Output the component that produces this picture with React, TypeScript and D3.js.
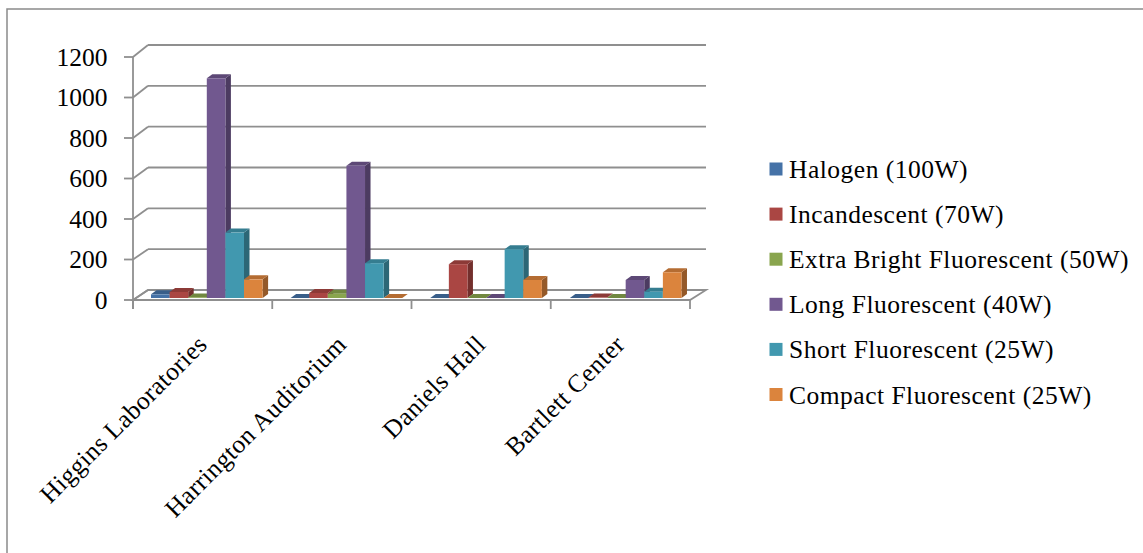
import React from "react";
import * as d3 from "d3";

const categories = ["Higgins Laboratories", "Harrington Auditorium", "Daniels Hall", "Bartlett Center"];
const seriesNames = [
  "Halogen (100W)",
  "Incandescent (70W)",
  "Extra Bright Fluorescent (50W)",
  "Long Fluorescent (40W)",
  "Short Fluorescent (25W)",
  "Compact Fluorescent (25W)",
];
const halogen = [18, 0, 0, 0];
const incandescent = [30, 25, 167, 2];
const extraBright = [3, 21, 0, 0];
const longFluor = [1085, 653, 0, 89];
const shortFluor = [323, 172, 241, 31];
const compactFluor = [92, 0, 89, 127];
const seriesValues = [halogen, incandescent, extraBright, longFluor, shortFluor, compactFluor];
const yTicks = [0, 200, 400, 600, 800, 1000, 1200];
const colors = ["#4572A7", "#AA4643", "#89A54E", "#71588F", "#4198AF", "#DB843D"];

const W = 1143;
const H = 553;
const FONT = "'Liberation Serif', 'Times New Roman', serif";
const GRID = "#8f8f8f";

export default function App() {
  // front plane scales
  const xFront = d3.scaleBand<string>().domain(categories).range([133, 690]).padding(0);
  const yFront = d3.scaleLinear().domain([0, 1200]).range([300, 57]);
  // back wall scales
  const yBack = d3.scaleLinear().domain([0, 1200]).range([290, 45]);
  const backX0 = 148;
  const backX1 = 706;
  // bar plane
  const xBar = d3.scaleBand<string>().domain(categories).range([136, 694.5]).padding(0);
  const xSeries = d3.scaleBand<number>().domain(d3.range(seriesNames.length)).range([15, 15 + 6 * 18.6]).padding(0);
  const yBar = d3.scaleLinear().domain([0, 1200]).range([298, 55]);
  const bdx = 5.5;
  const bdy = -4;

  const catEdges = [...categories.map((c) => xFront(c) as number), 690];

  const bars: React.ReactNode[] = [];
  categories.forEach((cat, ci) => {
    seriesValues.forEach((vals, si) => {
      const x0 = (xBar(cat) as number) + (xSeries(si) as number);
      const w = xSeries.bandwidth();
      const yT = yBar(vals[ci]);
      const yB = yBar(0);
      const base = d3.color(colors[si]) as d3.RGBColor;
      const side = base.darker(1.1).formatHex();
      const top = base.darker(0.55).formatHex();
      const sidePts = [
        [x0 + w, yT],
        [x0 + w + bdx, yT + bdy],
        [x0 + w + bdx, yB + bdy],
        [x0 + w, yB],
      ];
      const topPts = [
        [x0, yT],
        [x0 + bdx, yT + bdy],
        [x0 + w + bdx, yT + bdy],
        [x0 + w, yT],
      ];
      bars.push(
        <g key={`b-${ci}-${si}`}>
          <polygon points={sidePts.map((p) => p.join(",")).join(" ")} fill={side} />
          <polygon points={topPts.map((p) => p.join(",")).join(" ")} fill={top} />
          <rect x={x0} y={yT} width={w} height={Math.max(0, yB - yT)} fill={colors[si]} />
        </g>
      );
    });
  });

  return (
    <svg
      width={W}
      height={H}
      style={{ position: "absolute", left: 0, top: 0, background: "#fff" }}
      fontFamily={FONT}
    >
      <rect x={0} y={0} width={W} height={H} fill="#fff" />
      <rect x={7} y={9} width={W + 50} height={H + 50} fill="none" stroke="#8a8a8a" strokeWidth={1.5} />

      {/* floor */}
      <polygon
        points={[
          [133, yFront(0)],
          [690, yFront(0)],
          [backX1, yBack(0)],
          [backX0, yBack(0)],
        ]
          .map((p) => p.join(","))
          .join(" ")}
        fill="#fff"
        stroke={GRID}
        strokeWidth={1.8}
      />

      {/* back wall gridlines and side-wall diagonals */}
      {yTicks.map((t) => (
        <g key={`g-${t}`}>
          <line x1={backX0} x2={backX1} y1={yBack(t)} y2={yBack(t)} stroke={GRID} strokeWidth={1.8} />
          <line x1={133} x2={backX0} y1={yFront(t)} y2={yBack(t)} stroke={GRID} strokeWidth={1.8} />
          <line x1={124} x2={133} y1={yFront(t)} y2={yFront(t)} stroke={GRID} strokeWidth={1.8} />
          <text x={107.5} y={yFront(t) + 8.5} textAnchor="end" fontSize={25.5} fill="#000">
            {t}
          </text>
        </g>
      ))}
      {/* front vertical axis */}
      <line x1={133} x2={133} y1={yFront(1200)} y2={yFront(0) + 9} stroke={GRID} strokeWidth={1.8} />
      {/* category ticks */}
      {catEdges.map((x, i) => (
        <line key={`ct-${i}`} x1={x} x2={x} y1={yFront(0)} y2={yFront(0) + 9} stroke={GRID} strokeWidth={1.8} />
      ))}

      {bars}

      {/* category labels */}
      {categories.map((c) => {
        const cx = (xFront(c) as number) + xFront.bandwidth() / 2 + 6;
        const cy = 346;
        return (
          <text
            key={`cl-${c}`}
            transform={`translate(${cx},${cy}) rotate(-45)`}
            textAnchor="end"
            fontSize={25.5}
            letterSpacing={0.4}
            fill="#000"
          >
            {c}
          </text>
        );
      })}

      {/* legend */}
      {seriesNames.map((name, i) => {
        const cy = 169 + i * 45.1;
        return (
          <g key={`lg-${i}`}>
            <rect x={769.5} y={cy - 6.5} width={13} height={13} fill={colors[i]} />
            <text x={789} y={cy + 9} fontSize={25.5} letterSpacing={0.5} fill="#000">
              {name}
            </text>
          </g>
        );
      })}
    </svg>
  );
}
